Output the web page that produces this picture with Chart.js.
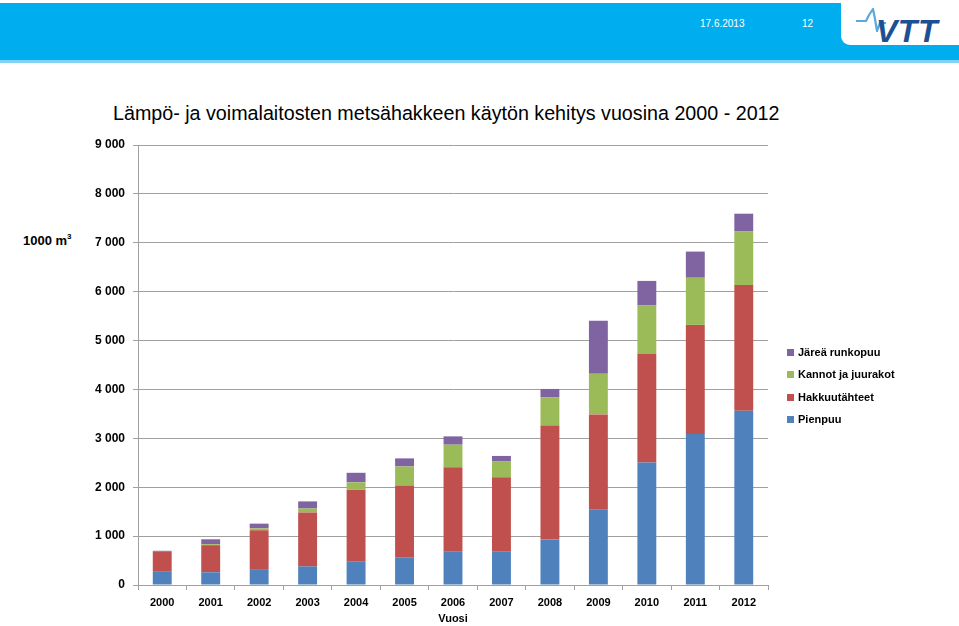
<!DOCTYPE html>
<html>
<head>
<meta charset="utf-8">
<script src="https://cdn.jsdelivr.net/npm/chart.js@4/dist/chart.umd.min.js"></script>
<style>
  html, body { margin:0; padding:0; background:#fff; }
  body { width:959px; height:626px; position:relative; overflow:hidden; font-family:"Liberation Sans", Arial, sans-serif; }
  #band { position:absolute; left:0; top:3px; width:959px; height:57px; background:#00AEEF; }
  #band2 { position:absolute; left:0; top:60px; width:959px; height:3px; background:#7fd3f5; }
  #tab { position:absolute; left:841px; top:3px; width:118px; height:42px; background:#fff; border-bottom-left-radius:9px; }
  #date { position:absolute; left:700px; top:18px; color:#fff; font-size:10px; }
  #page { position:absolute; left:802px; top:18px; color:#fff; font-size:10px; }
  #logo { position:absolute; left:850px; top:6px; }
  #title { position:absolute; left:113px; top:102px; font-size:19.7px; color:#000; white-space:nowrap; }
  #unit { position:absolute; left:23px; top:233px; font-size:13px; color:#000; font-weight:bold; }
  #unit sup { font-size:8px; position:relative; top:-1px; }
  #wrap { position:absolute; left:0; top:0; width:959px; height:626px; }
  #legend { position:absolute; left:787px; top:345px; font-size:11px; color:#000; font-weight:bold; }
  #legend div { height:22.4px; line-height:14px; white-space:nowrap; }
  #legend span.box { display:inline-block; width:7px; height:7px; margin-right:4px; vertical-align:0px; }
</style>
</head>
<body>
<div id="band"></div>
<div id="band2"></div>
<div id="tab"></div>
<div id="date">17.6.2013</div>
<div id="page">12</div>
<svg id="logo" width="105" height="40" viewBox="0 0 105 40">
  <path d="M6 15 L16 15 L19 9 L23 3 L25 13 L27 25 L30 17 L36 17" fill="none" stroke="#5aa9dc" stroke-width="2.2" stroke-linejoin="round"/>
  <text x="26" y="36" font-family="Liberation Sans, Arial" font-style="italic" font-weight="bold" font-size="32" fill="#1c4f93" letter-spacing="0.5">VTT</text>
</svg>
<div id="title">Lämpö- ja voimalaitosten metsähakkeen käytön kehitys vuosina 2000 - 2012</div>
<div id="unit">1000 m<sup>3</sup></div>
<div id="wrap"><canvas id="c" width="959" height="626"></canvas></div>
<div id="legend"></div>
<script>
const years = ["2000","2001","2002","2003","2004","2005","2006","2007","2008","2009","2010","2011","2012"];
const pienpuu = [270, 260, 325, 380, 475, 555, 680, 680, 930, 1540, 2505, 3090, 3565];
const hakkuutahteet = [410, 555, 795, 1105, 1475, 1480, 1730, 1525, 2330, 1950, 2220, 2230, 2570];
const kannot = [0, 20, 40, 80, 150, 390, 460, 320, 575, 830, 1000, 965, 1095];
const jarea = [20, 100, 95, 145, 195, 165, 170, 115, 175, 1085, 495, 535, 365];
const seriesNames = ["Pienpuu", "Hakkuutähteet", "Kannot ja juurakot", "Järeä runkopuu"];
const seriesColors = ["#4F81BD", "#C0504D", "#9BBB59", "#8064A2"];
const yTicks = [0,1000,2000,3000,4000,5000,6000,7000,8000,9000];

const FONT = "'Liberation Sans', Arial, sans-serif";
const values = [pienpuu, hakkuutahteet, kannot, jarea];
const chart = new Chart(document.getElementById('c'), {
  type: 'bar',
  data: {
    labels: years,
    datasets: values.map((v, i) => ({
      label: seriesNames[i], data: v, backgroundColor: seriesColors[i],
      borderWidth: 0, barPercentage: 0.39, categoryPercentage: 1.0
    }))
  },
  options: {
    responsive: false, animation: false,
    layout: { padding: { left: 0, right: 191, top: 145, bottom: 0 } },
    plugins: { legend: { display: false }, tooltip: { enabled: false } },
    scales: {
      x: {
        stacked: true,
        grid: { display: true, drawOnChartArea: false, offset: true, color: '#a0a0a0', tickLength: 5, lineWidth: 1 },
        border: { display: true, color: '#a0a0a0' },
        ticks: { color: '#000', font: { family: FONT, size: 11, weight: 'bold' }, padding: 6, maxRotation: 0 },
        title: { display: true, text: 'Vuosi', color: '#000', font: { family: FONT, size: 11, weight: 'bold' }, padding: { top: 3, bottom: 0 } },
        afterFit: s => { s.height = 41; }
      },
      y: {
        stacked: true, min: 0, max: 9000,
        afterBuildTicks: s => { s.ticks = yTicks.map(v => ({ value: v })); },
        grid: { color: '#a0a0a0', tickLength: 5, lineWidth: 1 },
        border: { display: true, color: '#a0a0a0' },
        ticks: { color: '#000', font: { family: FONT, size: 12, weight: 'bold' }, padding: 8,
          callback: v => String(v).replace(/\B(?=(\d{3})+(?!\d))/g, ' ') },
        afterFit: s => { s.width = 138; }
      }
    }
  }
});

const leg = document.getElementById('legend');
chart.data.datasets.slice().reverse().forEach(ds => {
  const d = document.createElement('div');
  d.innerHTML = '<span class="box" style="background:' + ds.backgroundColor + '"></span>' + ds.label;
  leg.appendChild(d);
});
</script>
</body>
</html>
